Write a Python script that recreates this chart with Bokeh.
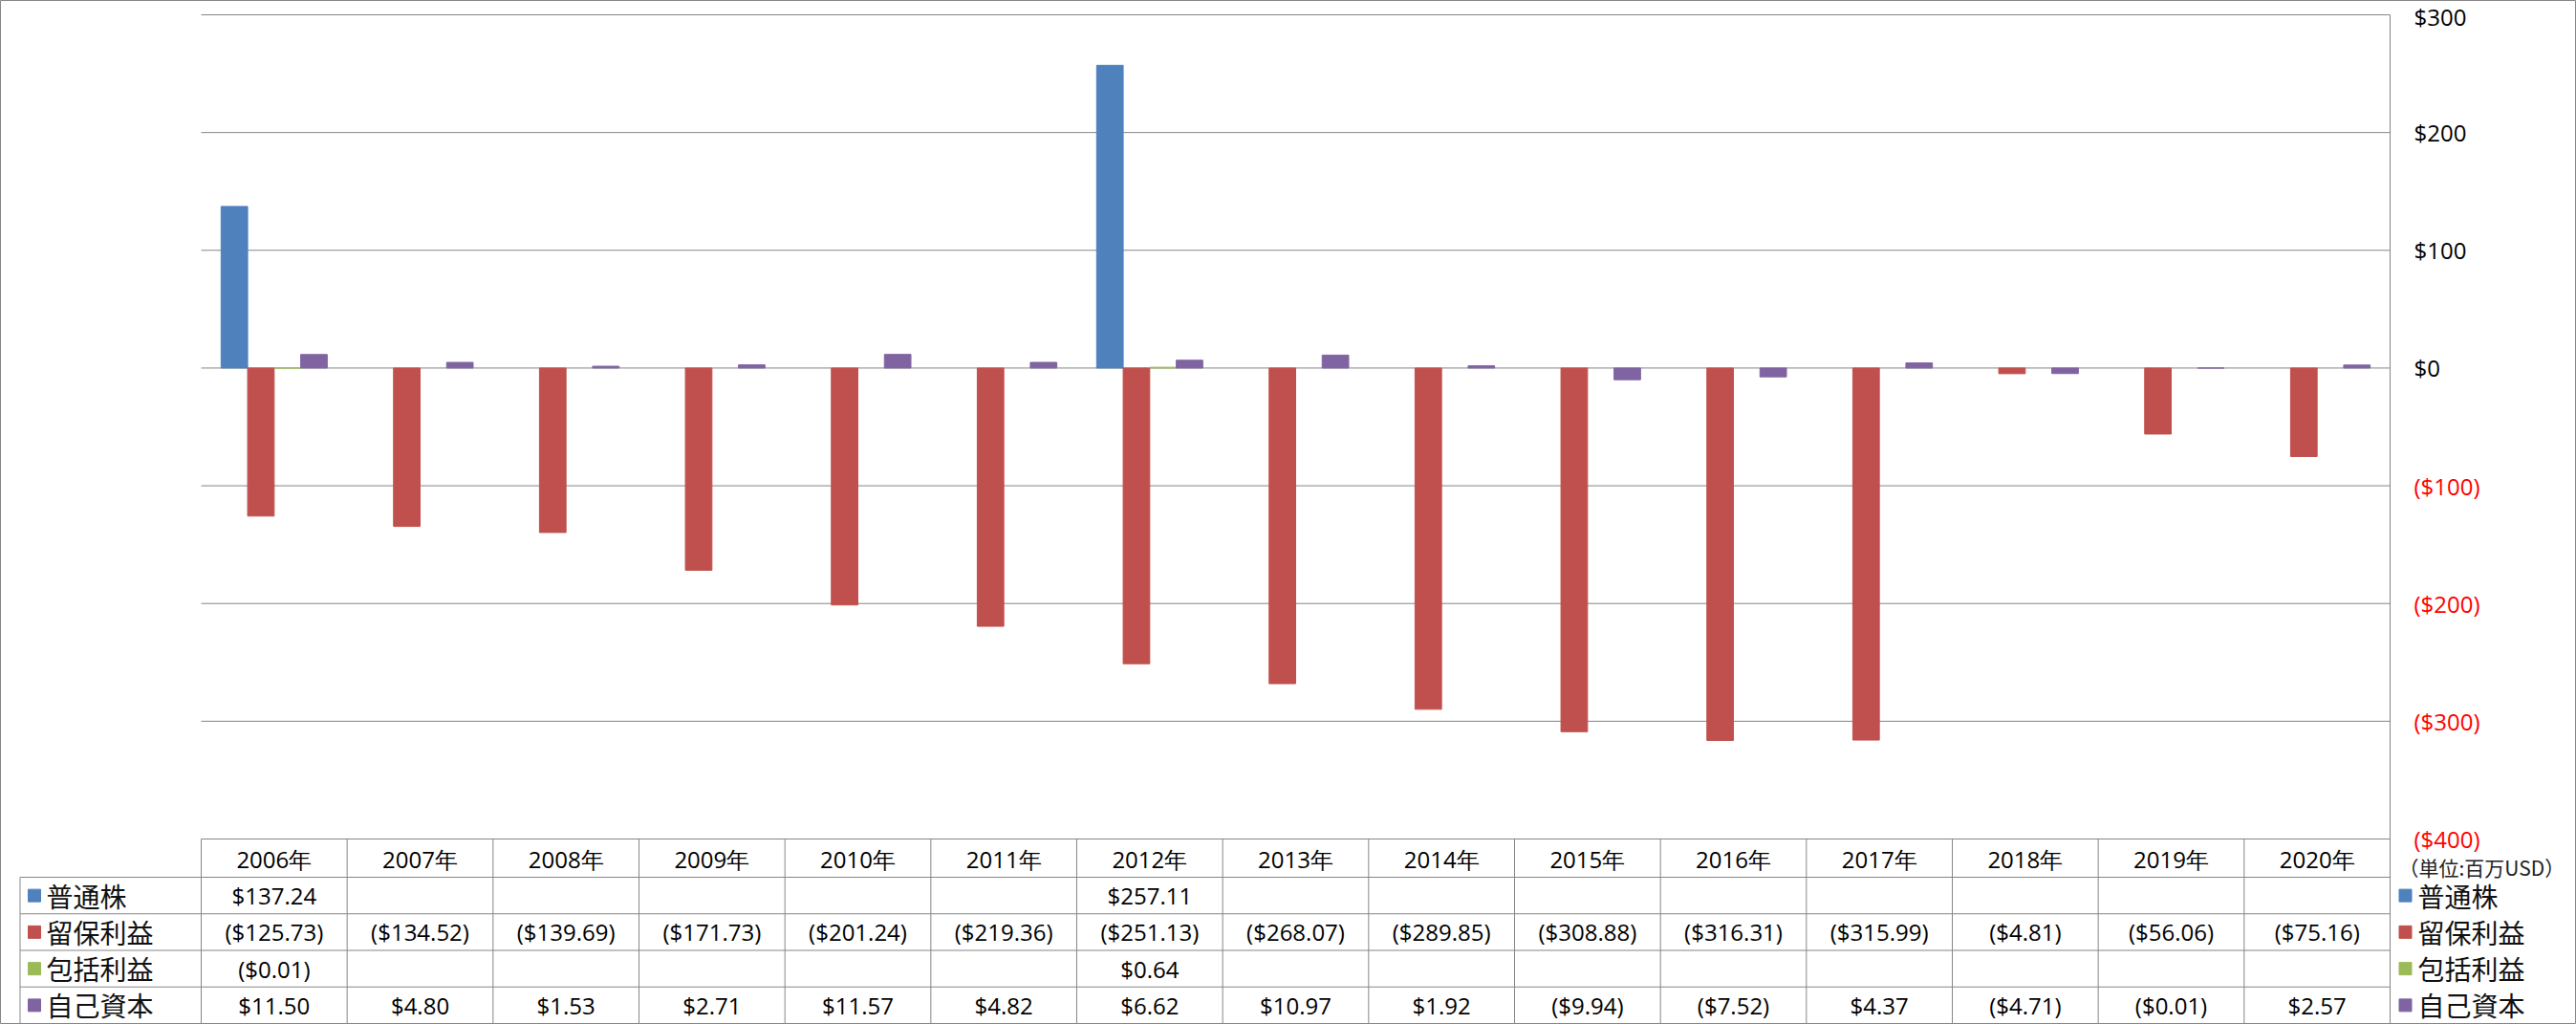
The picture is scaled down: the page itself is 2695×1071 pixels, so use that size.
from bokeh.plotting import figure
from bokeh.models import Range1d, LinearAxis, FixedTicker
from bokeh.core.properties import value
from bokeh.embed import file_html
from bokeh.resources import INLINE

# ---------------- data ----------------
years = ["2006年", "2007年", "2008年", "2009年", "2010年", "2011年", "2012年", "2013年",
         "2014年", "2015年", "2016年", "2017年", "2018年", "2019年", "2020年"]
series_names = ["普通株", "留保利益", "包括利益", "自己資本"]
common_stock = [137.24, None, None, None, None, None, 257.11, None, None, None, None, None, None, None, None]
retained_earnings = [-125.73, -134.52, -139.69, -171.73, -201.24, -219.36, -251.13, -268.07,
                     -289.85, -308.88, -316.31, -315.99, -4.81, -56.06, -75.16]
comprehensive_income = [-0.01, None, None, None, None, None, 0.64, None, None, None, None, None, None, None, None]
own_capital = [11.50, 4.80, 1.53, 2.71, 11.57, 4.82, 6.62, 10.97, 1.92, -9.94, -7.52, 4.37, -4.71, -0.01, 2.57]
y_ticks = [300, 200, 100, 0, -100, -200, -300, -400]
y_tick_labels = ["$300", "$200", "$100", "$0", "($100)", "($200)", "($300)", "($400)"]
unit_note = "（単位:百万USD）"

series_values = [common_stock, retained_earnings, comprehensive_income, own_capital]
colors = ["#4F81BD", "#C0504D", "#9BBB59", "#8064A2"]

# ---------------- geometry (screen px) ----------------
FIG_W, FIG_H = 2695, 1071
N = len(years)
PLOT_L, PLOT_R = 210, 2500
px_per_cat = (PLOT_R - PLOT_L) / N
Y_MAX, Y_MIN = max(y_ticks), min(y_ticks)
TOP_PX, BOTTOM_TICK_PX = 15, 877
px_per_unit = (BOTTOM_TICK_PX - TOP_PX) / (Y_MAX - Y_MIN)
HEADER_PX = 40
TABLE_BOTTOM_PX = FIG_H - 1
ROW_PX = (TABLE_BOTTOM_PX - BOTTOM_TICK_PX - HEADER_PX) / len(series_names)


def px_x(px):
    return (px - PLOT_L) / px_per_cat


def px_y(py):
    return Y_MAX - (py - TOP_PX) / px_per_unit


x_start, x_end = px_x(0), px_x(FIG_W)
y_start, y_end = px_y(FIG_H), px_y(0)

GRID = "#868686"
NUM_FONT = "Open Sans"
CJK = "Noto Sans CJK JP"

p = figure(width=FIG_W, height=FIG_H, output_backend="svg", toolbar_location=None,
           tools="", title=None, x_axis_type=None, y_axis_type=None,
           x_range=Range1d(x_start, x_end), y_range=Range1d(y_start, y_end),
           min_border=0, min_border_left=0, min_border_right=0,
           min_border_top=0, min_border_bottom=0)
p.outline_line_color = GRID
p.outline_line_width = 1
p.background_fill_color = "white"
p.border_fill_color = "white"

# gridlines (the lowest one is also the top line of the table)
p.segment(x0=[0] * len(y_ticks), x1=[N] * len(y_ticks), y0=y_ticks, y1=y_ticks,
          line_color=GRID, line_width=1)

# bars
bw = 1.0 / (len(series_names) + 1.5)
for k, (vals, col) in enumerate(zip(series_values, colors)):
    off = (k - (len(series_names) - 1) / 2) * bw
    xs = [i + 0.5 + off for i, v in enumerate(vals) if v is not None]
    tops = [v for v in vals if v is not None]
    p.vbar(x=xs, top=tops, bottom=0, width=bw, fill_color=col, line_color=col, line_width=1)

# table lines
leg_left = px_x(20.5)
row_lines_px = [BOTTOM_TICK_PX + HEADER_PX + r * ROW_PX for r in range(len(series_names) + 1)]
row_lines_y = [px_y(v) for v in row_lines_px]
p.segment(x0=[leg_left] * len(row_lines_y), x1=[N] * len(row_lines_y),
          y0=row_lines_y, y1=row_lines_y, line_color=GRID, line_width=1)
p.segment(x0=list(range(N)), x1=list(range(N)), y0=[Y_MIN] * N, y1=[y_start] * N,
          line_color=GRID, line_width=1)
p.segment(x0=[N], x1=[N], y0=[Y_MAX], y1=[y_start], line_color=GRID, line_width=1)
p.segment(x0=[leg_left], x1=[leg_left], y0=[row_lines_y[0]], y1=[y_start],
          line_color=GRID, line_width=1)


def fmt(v):
    if v is None:
        return ""
    return "(${:,.2f})".format(-v) if v < 0 else "${:,.2f}".format(v)


# header texts
header_y = px_y(BOTTOM_TICK_PX + HEADER_PX / 2 + 1)
p.text(x=[i + 0.5 for i in range(N)], y=[header_y] * N, text=years,
       text_align="center", text_baseline="middle", text_font=value(NUM_FONT),
       text_font_size="24px", text_color="#000000")

# value texts
row_centers = [px_y(row_lines_px[r] + ROW_PX / 2) for r in range(len(series_names))]
tx, ty, tt = [], [], []
for r, vals in enumerate(series_values):
    for i, v in enumerate(vals):
        if v is None:
            continue
        tx.append(i + 0.5)
        ty.append(row_centers[r])
        tt.append(fmt(v))
p.text(x=tx, y=ty, text=tt, text_align="center", text_baseline="middle",
       text_font=value(NUM_FONT), text_font_size="24px", text_color="#000000")

# legend keys (left column of the table and right side)
for sq_px, txt_px in [(35.5, 48), (2516, 2529)]:
    p.scatter(x=[px_x(sq_px)] * len(series_names), y=row_centers, marker="square", size=13,
              fill_color=colors, line_color=colors)
    p.text(x=[px_x(txt_px)] * len(series_names), y=row_centers, text=series_names,
           text_align="left", text_baseline="middle", text_font=value(CJK),
           text_font_size="28px", text_color="#111111")

# unit note
p.text(x=[px_x(2509)], y=[px_y(906)], text=[unit_note], text_align="left",
       text_baseline="middle", text_font=value(CJK), text_font_size="21px",
       text_color="#222222")

# right value axis (black for >=0, red for negatives)
for sel, col in [(lambda t: t >= 0, "#000000"), (lambda t: t < 0, "#FF0000")]:
    ticks = [t for t in y_ticks if sel(t)]
    ax = LinearAxis(fixed_location=N, ticker=FixedTicker(ticks=ticks, minor_ticks=[]))
    ax.major_label_overrides = {t: lab for t, lab in zip(y_ticks, y_tick_labels) if sel(t)}
    ax.axis_line_color = None
    ax.major_tick_line_color = None
    ax.minor_tick_line_color = None
    ax.major_tick_in = 0
    ax.major_tick_out = 0
    ax.major_label_standoff = 25
    ax.major_label_text_font = NUM_FONT
    ax.major_label_text_font_size = "24px"
    ax.major_label_text_color = col
    p.add_layout(ax, "right")

open("out.html", "w").write(file_html(p, INLINE))
